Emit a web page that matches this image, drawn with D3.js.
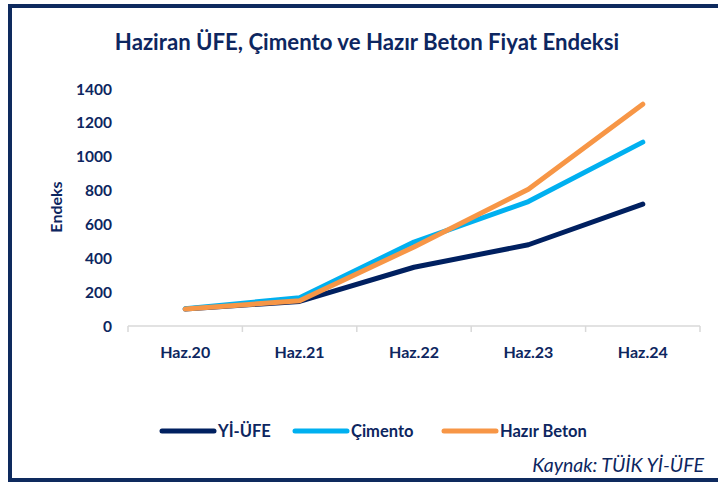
<!DOCTYPE html>
<html><head><meta charset="utf-8">
<script src="https://cdn.jsdelivr.net/npm/d3@7"></script>
<style>
html,body{margin:0;padding:0;background:#fff;}
svg{display:block;font-family:Lato,"Open Sans",sans-serif;}
</style></head>
<body>
<svg id="chart" width="718" height="482"></svg>
<script>
const categories = ["Haz.20","Haz.21","Haz.22","Haz.23","Haz.24"];
const seriesNames = ["Yİ-ÜFE","Çimento","Hazır Beton"];
const yiUfe = [100, 145, 347, 480, 720];
const cimento = [102, 167, 496, 735, 1086];
const hazirBeton = [100, 149, 467, 808, 1310];
const yTicks = [0,200,400,600,800,1000,1200,1400];
const colors = ["#002060","#00b0f0","#f79646"];
const navy = "#0d2660";

const svg = d3.select("#chart");
// frame
svg.append("rect").attr("x",10).attr("y",6).attr("width",720).attr("height",474)
  .attr("fill","none").attr("stroke","#0e2a5e").attr("stroke-width",4);

svg.append("text").attr("x",367).attr("y",50).attr("text-anchor","middle")
  .attr("font-size",22.2).attr("font-weight","bold").attr("fill",navy)
  .text("Haziran ÜFE, Çimento ve Hazır Beton Fiyat Endeksi");

const x = d3.scaleBand().domain(categories).range([128,700]);
const y = d3.scaleLinear().domain([0,1400]).range([326,89]);

// x axis
const xg = svg.append("g").attr("transform","translate(0,326)");
xg.append("line").attr("x1",128).attr("x2",700).attr("stroke","#d9d9d9").attr("stroke-width",1.5);
const xt = [...categories.map(c=>x(c)), 700];
xg.selectAll("line.tk").data(xt).join("line").attr("class","tk")
  .attr("x1",d=>d).attr("x2",d=>d).attr("y1",0).attr("y2",6)
  .attr("stroke","#d9d9d9").attr("stroke-width",1.5);
xg.selectAll("text").data(categories).join("text")
  .attr("x",d=>x(d)+x.bandwidth()/2).attr("y",32).attr("text-anchor","middle")
  .attr("font-size",16).attr("font-weight","bold").attr("fill",navy).text(d=>d);

// y axis labels
svg.append("g").selectAll("text").data(yTicks).join("text")
  .attr("x",112).attr("y",d=>y(d)+5.5).attr("text-anchor","end")
  .attr("font-size",15.5).attr("font-weight","bold").attr("fill",navy).text(d=>d);

svg.append("text").attr("transform","translate(62,207) rotate(-90)")
  .attr("text-anchor","middle").attr("font-size",16).attr("font-weight","bold")
  .attr("fill",navy).text("Endeks");

const data = [yiUfe, cimento, hazirBeton];
const line = d3.line().x((d,i)=>x(categories[i])+x.bandwidth()/2).y(d=>y(d));
svg.append("g").selectAll("path").data(data).join("path")
  .attr("d",line).attr("fill","none").attr("stroke",(d,i)=>colors[i])
  .attr("stroke-width",5).attr("stroke-linecap","round").attr("stroke-linejoin","round");

// legend
const legX = [162, 295, 444];
const lg = svg.append("g").selectAll("g").data(seriesNames).join("g")
  .attr("transform",(d,i)=>`translate(${legX[i]},431)`);
lg.append("line").attr("x1",0).attr("x2",52).attr("stroke",(d,i)=>colors[i])
  .attr("stroke-width",5).attr("stroke-linecap","round");
lg.append("text").attr("x",56).attr("y",6).attr("font-size",16.5).attr("font-weight","bold")
  .attr("fill",navy).text(d=>d);

svg.append("text").attr("x",704).attr("y",472).attr("text-anchor","end")
  .attr("font-size",19.5).attr("font-style","italic").attr("fill",navy)
  .text("Kaynak: TÜİK Yİ-ÜFE");
</script>
</body></html>
